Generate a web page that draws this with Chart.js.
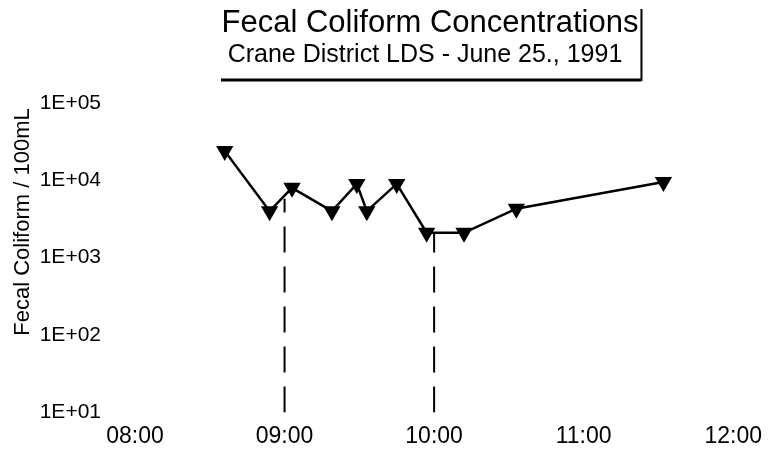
<!DOCTYPE html>
<html>
<head>
<meta charset="utf-8">
<title>Fecal Coliform Concentrations</title>
<script src="https://cdn.jsdelivr.net/npm/chart.js@4.4.0/dist/chart.umd.min.js"></script>
<style>
  html, body { margin: 0; padding: 0; background: #fff; }
</style>
</head>
<body>
<canvas id="coliformChart" width="772" height="459"></canvas>
<script>
// Sampling times and fecal coliform counts per 100 mL
const sampleTimes = ['08:36', '08:54', '09:03', '09:19', '09:29', '09:33', '09:45', '09:57', '10:12', '10:33', '11:32'];
const fecalCounts = [24000, 4000, 8000, 4000, 9000, 4000, 9000, 2100, 2100, 4300, 9500];

// Dashed drop lines at the hour marks
const dropTimes = ['09:00', '10:00'];
const dropTops = [5800, 2100];

// Axis ticks
const hourTicks = [8, 9, 10, 11, 12];
const decadeTicks = [10, 100, 1000, 10000, 100000];

const titleText = 'Fecal Coliform Concentrations';
const subtitleText = 'Crane District LDS - June 25., 1991';
const yAxisTitle = 'Fecal Coliform / 100mL';

const FONT = '"Liberation Sans", Arial, Helvetica, sans-serif';

function toHours(t) {
    const [h, m] = t.split(':').map(Number);
    return h + m / 60;
}

const samplePoints = sampleTimes.map((t, i) => ({ x: toHours(t), y: fecalCounts[i] }));

const dropDatasets = dropTimes.map((t, i) => ({
    data: [{ x: toHours(t), y: decadeTicks[0] }, { x: toHours(t), y: dropTops[i] }],
    borderColor: '#000',
    borderWidth: 2,
    borderDash: [26, 14],
    pointRadius: 0,
    order: 2
}));

// Title, subtitle, half frame and the rotated y axis caption
const titleBox = {
    id: 'titleBox',
    afterDraw(chart) {
        const ctx = chart.ctx;
        ctx.save();
        ctx.fillStyle = '#000';
        ctx.textAlign = 'center';
        ctx.textBaseline = 'alphabetic';
        ctx.font = '31px ' + FONT;
        ctx.fillText(titleText, 430, 32);
        const titleRight = 430 + ctx.measureText(titleText).width / 2;
        ctx.font = '25px ' + FONT;
        ctx.fillText(subtitleText, 425, 62);

        const frameRight = titleRight + 3;
        ctx.strokeStyle = '#000';
        ctx.lineWidth = 3;
        ctx.beginPath();
        ctx.moveTo(221, 80);
        ctx.lineTo(frameRight, 80);
        ctx.stroke();
        ctx.lineWidth = 2;
        ctx.beginPath();
        ctx.moveTo(frameRight, 81);
        ctx.lineTo(frameRight, 9);
        ctx.stroke();

        // y axis caption, sits a little above the plot's middle
        ctx.translate(23, 222);
        ctx.rotate(-Math.PI / 2);
        ctx.textBaseline = 'middle';
        ctx.font = '22px ' + FONT;
        ctx.fillText(yAxisTitle, 0, 0);
        ctx.restore();
    }
};

new Chart(document.getElementById('coliformChart'), {
    type: 'line',
    data: {
        datasets: [{
            data: samplePoints,
            borderColor: '#000',
            backgroundColor: '#000',
            borderWidth: 2.5,
            pointStyle: 'triangle',
            rotation: 180,
            pointRadius: 10,
            pointBackgroundColor: '#000',
            pointBorderColor: '#000',
            pointBorderWidth: 0,
            tension: 0,
            order: 1
        }, ...dropDatasets]
    },
    options: {
        responsive: false,
        animation: false,
        devicePixelRatio: 1,
        layout: { padding: { left: 0, right: 37, top: 103, bottom: 0 } },
        plugins: {
            legend: { display: false },
            tooltip: { enabled: false },
            title: { display: false }
        },
        scales: {
            x: {
                type: 'linear',
                min: 8,
                max: 12,
                afterBuildTicks: scale => { scale.ticks = hourTicks.map(v => ({ value: v })); },
                afterFit: scale => { scale.height = 42; },
                ticks: {
                    callback: v => String(v).padStart(2, '0') + ':00',
                    color: '#000',
                    font: { family: FONT, size: 23 },
                    padding: 10,
                    maxRotation: 0,
                    autoSkip: false
                },
                grid: { display: false, drawTicks: false },
                border: { display: false }
            },
            y: {
                type: 'logarithmic',
                min: 10,
                max: 100000,
                afterBuildTicks: scale => { scale.ticks = decadeTicks.map(v => ({ value: v })); },
                afterFit: scale => { scale.width = 135; },
                ticks: {
                    callback: v => '1E+' + String(Math.round(Math.log10(v))).padStart(2, '0'),
                    color: '#000',
                    font: { family: FONT, size: 21 },
                    padding: 34
                },
                grid: { display: false, drawTicks: false },
                border: { display: false }
            }
        }
    },
    plugins: [titleBox]
});
</script>
</body>
</html>
